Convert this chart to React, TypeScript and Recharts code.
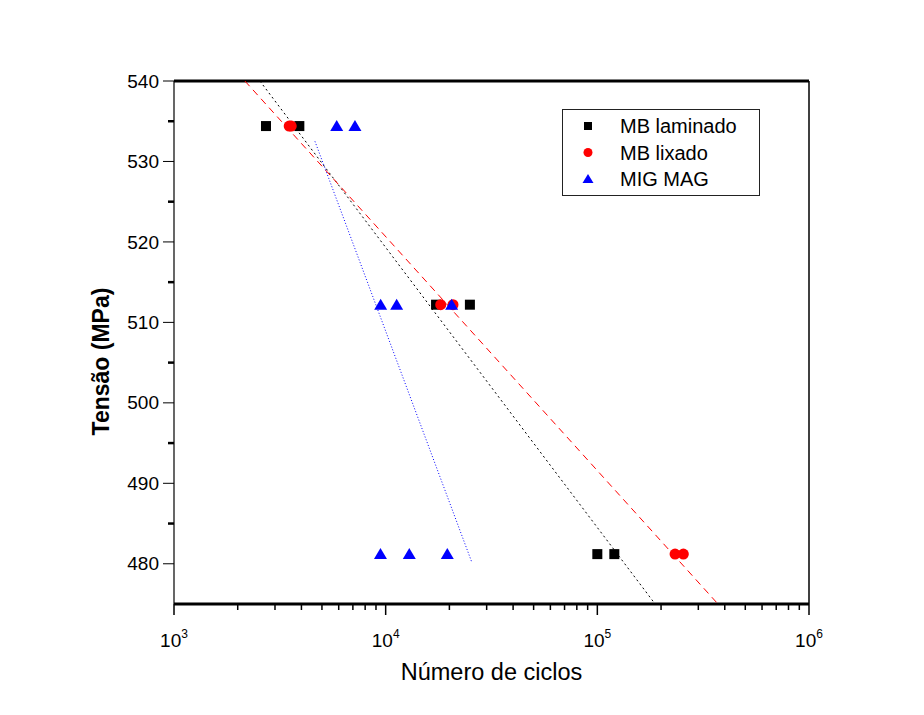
import React from 'react';
import { ScatterChart, Scatter, XAxis, YAxis, Legend, Label, ReferenceLine } from 'recharts';

// ---- data ----
const laminadoCycles = [2720, 3910, 17300, 25000, 100000, 120300];
const laminadoStress = [534.4, 534.4, 512.2, 512.2, 481.2, 481.2];

const lixadoCycles = [3500, 3580, 18200, 20800, 232900, 254900];
const lixadoStress = [534.4, 534.4, 512.2, 512.2, 481.2, 481.2];

const migCycles = [5870, 7160, 9470, 11270, 20500, 9450, 12930, 19550];
const migStress = [534.4, 534.4, 512.2, 512.2, 512.2, 481.2, 481.2, 481.2];

// fitted lines (endpoints)
const fitLaminadoCycles = [2546, 187500];
const fitLaminadoStress = [540, 475];
const fitLixadoCycles = [2163, 371500];
const fitLixadoStress = [540, 475];
const fitMigCycles = [4634, 25600];
const fitMigStress = [532.5, 480.1];

const xDomain = [1000, 1000000];
const yDomain = [475, 540];
const xMajorTicks = [1000, 10000, 100000, 1000000];
const xExponents = ['3', '4', '5', '6'];
const xTicks = [
  1000, 2000, 3000, 4000, 5000, 6000, 7000, 8000, 9000,
  10000, 20000, 30000, 40000, 50000, 60000, 70000, 80000, 90000,
  100000, 200000, 300000, 400000, 500000, 600000, 700000, 800000, 900000,
  1000000,
];
const yTicks = [480, 485, 490, 495, 500, 505, 510, 515, 520, 525, 530, 535, 540];
const yMajorTicks = [480, 490, 500, 510, 520, 530, 540];

const seriesNames = ['MB laminado', 'MB lixado', 'MIG MAG'];
const seriesColors = ['#000000', '#ff0000', '#0000ff'];

const zip = (xs: number[], ys: number[]) => xs.map((x, i) => ({ x, y: ys[i] }));

const laminadoData = zip(laminadoCycles, laminadoStress);
const lixadoData = zip(lixadoCycles, lixadoStress);
const migData = zip(migCycles, migStress);
const fitLaminado = zip(fitLaminadoCycles, fitLaminadoStress);
const fitLixado = zip(fitLixadoCycles, fitLixadoStress);
const fitMig = zip(fitMigCycles, fitMigStress);

const FONT = '"Liberation Sans", Arial, Helvetica, sans-serif';

const SquareShape = (p: any) => (
  <rect x={p.cx - 5} y={p.cy - 5} width={10} height={10} fill="#000" />
);
const CircleShape = (p: any) => <circle cx={p.cx} cy={p.cy} r={5.5} fill="#ff0000" />;
const TriangleShape = (p: any) => (
  <polygon
    points={`${p.cx},${p.cy - 6} ${p.cx - 6.5},${p.cy + 5} ${p.cx + 6.5},${p.cy + 5}`}
    fill="#0000ff"
  />
);
const NoShape = () => <g />;

const XTick = (props: any) => {
  const { x, y, payload } = props;
  const v = payload.value;
  const idx = xMajorTicks.indexOf(v);
  const major = idx >= 0;
  return (
    <g>
      <line x1={x} y1={y} x2={x} y2={y + (major ? 11 : 6)} stroke="#000" strokeWidth={1.5} />
      {major && (
        <text x={x} y={y + 43} textAnchor="middle" fontSize={19} fontFamily={FONT} fill="#000">
          10
          <tspan fontSize={12} dy={-9}>
            {xExponents[idx]}
          </tspan>
        </text>
      )}
    </g>
  );
};

const YTick = (props: any) => {
  const { x, y, payload } = props;
  const v = payload.value;
  const major = yMajorTicks.indexOf(v) >= 0;
  return (
    <g>
      {major ? (
        <line x1={x - 11} y1={y} x2={x} y2={y} stroke="#000" strokeWidth={1} />
      ) : (
        <line x1={x - 6} y1={y} x2={x} y2={y} stroke="#000" strokeWidth={2.5} />
      )}
      {major && (
        <text x={x - 15} y={y} dy="0.35em" textAnchor="end" fontSize={19} fontFamily={FONT} fill="#000">
          {v}
        </text>
      )}
    </g>
  );
};

const YLabel = (props: any) => {
  const vb = props.viewBox || { x: 86, y: 73, width: 80, height: 523 };
  const cx = vb.x + 7;
  const cy = vb.y + vb.height / 2 + 19;
  return (
    <text
      x={cx}
      y={cy}
      transform={`rotate(-90, ${cx}, ${cy})`}
      textAnchor="middle"
      dy="0.35em"
      fontSize={23}
      fontWeight="bold"
      fontFamily={FONT}
      fill="#000"
    >
      Tensão (MPa)
    </text>
  );
};

const XLabel = (props: any) => {
  const vb = props.viewBox || { x: 166, y: 596, width: 635, height: 60 };
  const cx = vb.x + vb.width / 2;
  const y = vb.y + 76;
  return (
    <text x={cx} y={y} textAnchor="middle" fontSize={23.5} fontFamily={FONT} fill="#000">
      Número de ciclos
    </text>
  );
};

const LegendBox = () => (
  <svg width={198} height={87} style={{ display: 'block' }}>
    <rect x={0.5} y={0.5} width={197} height={86} fill="#fff" stroke="#222" strokeWidth={1} />
    {seriesNames.map((name, i) => {
      const cy = 17 + i * 26.5;
      const cx = 26;
      let marker;
      if (i === 0) marker = <rect x={cx - 4} y={cy - 4} width={8} height={8} fill={seriesColors[0]} />;
      else if (i === 1) marker = <circle cx={cx} cy={cy} r={4.5} fill={seriesColors[1]} />;
      else
        marker = (
          <polygon points={`${cx},${cy - 5} ${cx - 5.5},${cy + 4} ${cx + 5.5},${cy + 4}`} fill={seriesColors[2]} />
        );
      return (
        <g key={name}>
          {marker}
          <text x={58} y={cy} dy="0.35em" fontSize={20} fontFamily={FONT} fill="#000">
            {name}
          </text>
        </g>
      );
    })}
  </svg>
);

export default function App() {
  return (
    <div style={{ width: 908, height: 699, background: '#fff' }}>
      <ScatterChart
        width={908}
        height={699}
        margin={{ top: 73, right: 107, bottom: 43, left: 86 }}
        style={{ background: '#fff' }}
      >
        <XAxis
          dataKey="x"
          type="number"
          scale="log"
          domain={xDomain}
          allowDataOverflow
          ticks={xTicks}
          interval={0}
          tickSize={0}
          tickMargin={0}
          tickLine={false}
          height={60}
          axisLine={{ stroke: '#000', strokeWidth: 3 }}
          tick={(p: any) => <XTick {...p} />}
        >
          <Label content={(p: any) => <XLabel {...p} />} />
        </XAxis>
        <YAxis
          dataKey="y"
          type="number"
          domain={yDomain}
          allowDataOverflow
          ticks={yTicks}
          interval={0}
          tickSize={0}
          tickMargin={0}
          tickLine={false}
          width={80}
          axisLine={{ stroke: '#000', strokeWidth: 1.2 }}
          tick={(p: any) => <YTick {...p} />}
        >
          <Label content={(p: any) => <YLabel {...p} />} />
        </YAxis>

        {/* top and right frame */}
        <ReferenceLine y={yDomain[1]} stroke="#000" strokeWidth={3} ifOverflow="visible" />
        <ReferenceLine x={xDomain[1]} stroke="#000" strokeWidth={1.5} ifOverflow="visible" />

        <Scatter
          name="fit laminado"
          data={fitLaminado}
          line={{ stroke: '#000', strokeWidth: 1, strokeDasharray: '2 3' }}
          lineType="joint"
          shape={NoShape}
          isAnimationActive={false}
          legendType="none"
        />
        <Scatter
          name="fit lixado"
          data={fitLixado}
          line={{ stroke: '#ff0000', strokeWidth: 1, strokeDasharray: '7 5' }}
          lineType="joint"
          shape={NoShape}
          isAnimationActive={false}
          legendType="none"
        />
        <Scatter
          name="fit MIG MAG"
          data={fitMig}
          line={{ stroke: '#0000ff', strokeWidth: 1, strokeDasharray: '1 2' }}
          lineType="joint"
          shape={NoShape}
          isAnimationActive={false}
          legendType="none"
        />

        <Scatter name={seriesNames[0]} data={laminadoData} shape={SquareShape} isAnimationActive={false} />
        <Scatter name={seriesNames[1]} data={lixadoData} shape={CircleShape} isAnimationActive={false} />
        <Scatter name={seriesNames[2]} data={migData} shape={TriangleShape} isAnimationActive={false} />

        <Legend
          layout="vertical"
          align="center"
          verticalAlign="middle"
          content={() => <LegendBox />}
          wrapperStyle={{ position: 'absolute', left: 554, top: 101, width: 198, height: 87 }}
        />
      </ScatterChart>
    </div>
  );
}
